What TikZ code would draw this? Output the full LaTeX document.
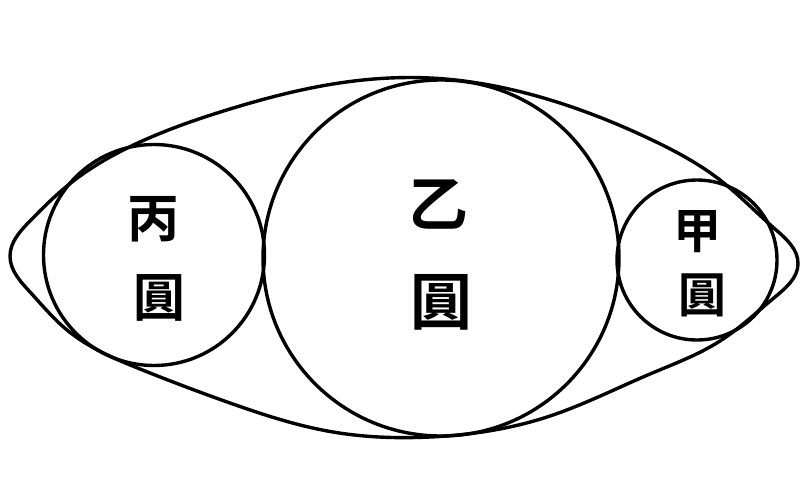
\documentclass[tikz,border=0pt]{standalone}
\usepackage{fontspec}
\usetikzlibrary{hobby}
\newfontfamily\cjk{Noto Sans CJK TC}[BoldFont={* Bold}]
\begin{document}
\begin{tikzpicture}[x=1pt,y=-1pt,
  outline/.style={draw=black,line width=3.4pt},
  ring/.style={outline,circle,inner sep=0pt},
  glyph/.style={inner sep=0pt}]
\useasboundingbox[fill=white] (0,0) rectangle (803,500);
% outer pointed oval
\draw[outline,use Hobby shortcut,closed=true]
  (10,256) .. (30,221) .. (67,186) .. (140,142) .. (230,109) .. (333,84)
  .. (430,78) .. (547,99) .. (650,139) .. (720,180) .. (775,229) .. (798,264)
  .. (775,297) .. (720,341) .. (650,374) .. (547,417) .. (430,437)
  .. (333,432) .. (230,403) .. (140,369) .. (67,330) .. (30,292);
\node[ring,minimum size=356pt] (yi) at (441,258) {};
\node[ring,minimum size=221pt] (bing) at (154,255) {};
\node[ring,minimum size=160pt] (jia) at (697,260) {};
\node[glyph,font=\cjk\bfseries\fontsize{52}{52}\selectfont] (bing1) at (153,219) {丙};
\node[glyph,font=\cjk\bfseries\fontsize{52}{52}\selectfont] (bing2) at (159,298) {圓};
\node[glyph,font=\cjk\bfseries\fontsize{60}{60}\selectfont] (yi1) at (438,204) {乙};
\node[glyph,font=\cjk\bfseries\fontsize{62}{62}\selectfont] (yi2) at (441,302) {圓};
\node[glyph,font=\cjk\bfseries\fontsize{48}{48}\selectfont] (jia1) at (697,232) {甲};
\node[glyph,font=\cjk\bfseries\fontsize{48}{48}\selectfont] (jia2) at (702,295) {圓};
\end{tikzpicture}
\end{document}
